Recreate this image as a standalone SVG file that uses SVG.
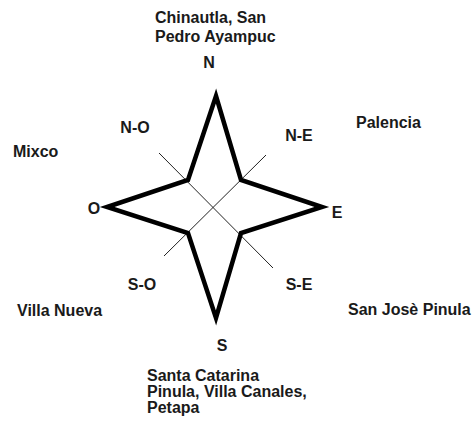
<svg xmlns="http://www.w3.org/2000/svg" width="474" height="423" viewBox="0 0 474 423">
<style>
text{font-family:"Liberation Sans",Arial,sans-serif;font-weight:bold;font-size:16px;fill:#1a1a1a}
.star{fill:none;stroke:#000;stroke-width:4.5;stroke-linejoin:miter}
.diag{stroke:#222;stroke-width:1}
</style>
<rect width="474" height="423" fill="#fff"/>
<g id="connectors">
<line class="diag" x1="159" y1="153" x2="273" y2="268"/>
<line class="diag" x1="266" y1="155" x2="164" y2="256"/>
</g>
<g id="star">
<polygon class="star" points="216,96 241,180 322,207 241,233 216,318 188,233 107,207 188,180"/>
</g>
<g id="north"><text x="155" y="23">Chinautla, San</text><text x="155" y="42">Pedro Ayampuc</text><text x="209" y="68" text-anchor="middle">N</text></g>
<g id="northeast"><text x="299" y="141" text-anchor="middle">N-E</text><text x="356" y="128">Palencia</text></g>
<g id="northwest"><text x="135" y="133" text-anchor="middle">N-O</text><text x="13" y="157">Mixco</text></g>
<g id="west"><text x="94" y="214" text-anchor="middle">O</text></g>
<g id="east"><text x="337" y="218" text-anchor="middle">E</text></g>
<g id="southwest"><text x="142" y="290" text-anchor="middle">S-O</text><text x="17" y="316">Villa Nueva</text></g>
<g id="southeast"><text x="299" y="290" text-anchor="middle">S-E</text><text x="348" y="315">San Josè Pinula</text></g>
<g id="south"><text x="222" y="351" text-anchor="middle">S</text><text x="147" y="381">Santa Catarina</text><text x="147" y="397">Pinula, Villa Canales,</text><text x="147" y="413">Petapa</text></g>
</svg>
